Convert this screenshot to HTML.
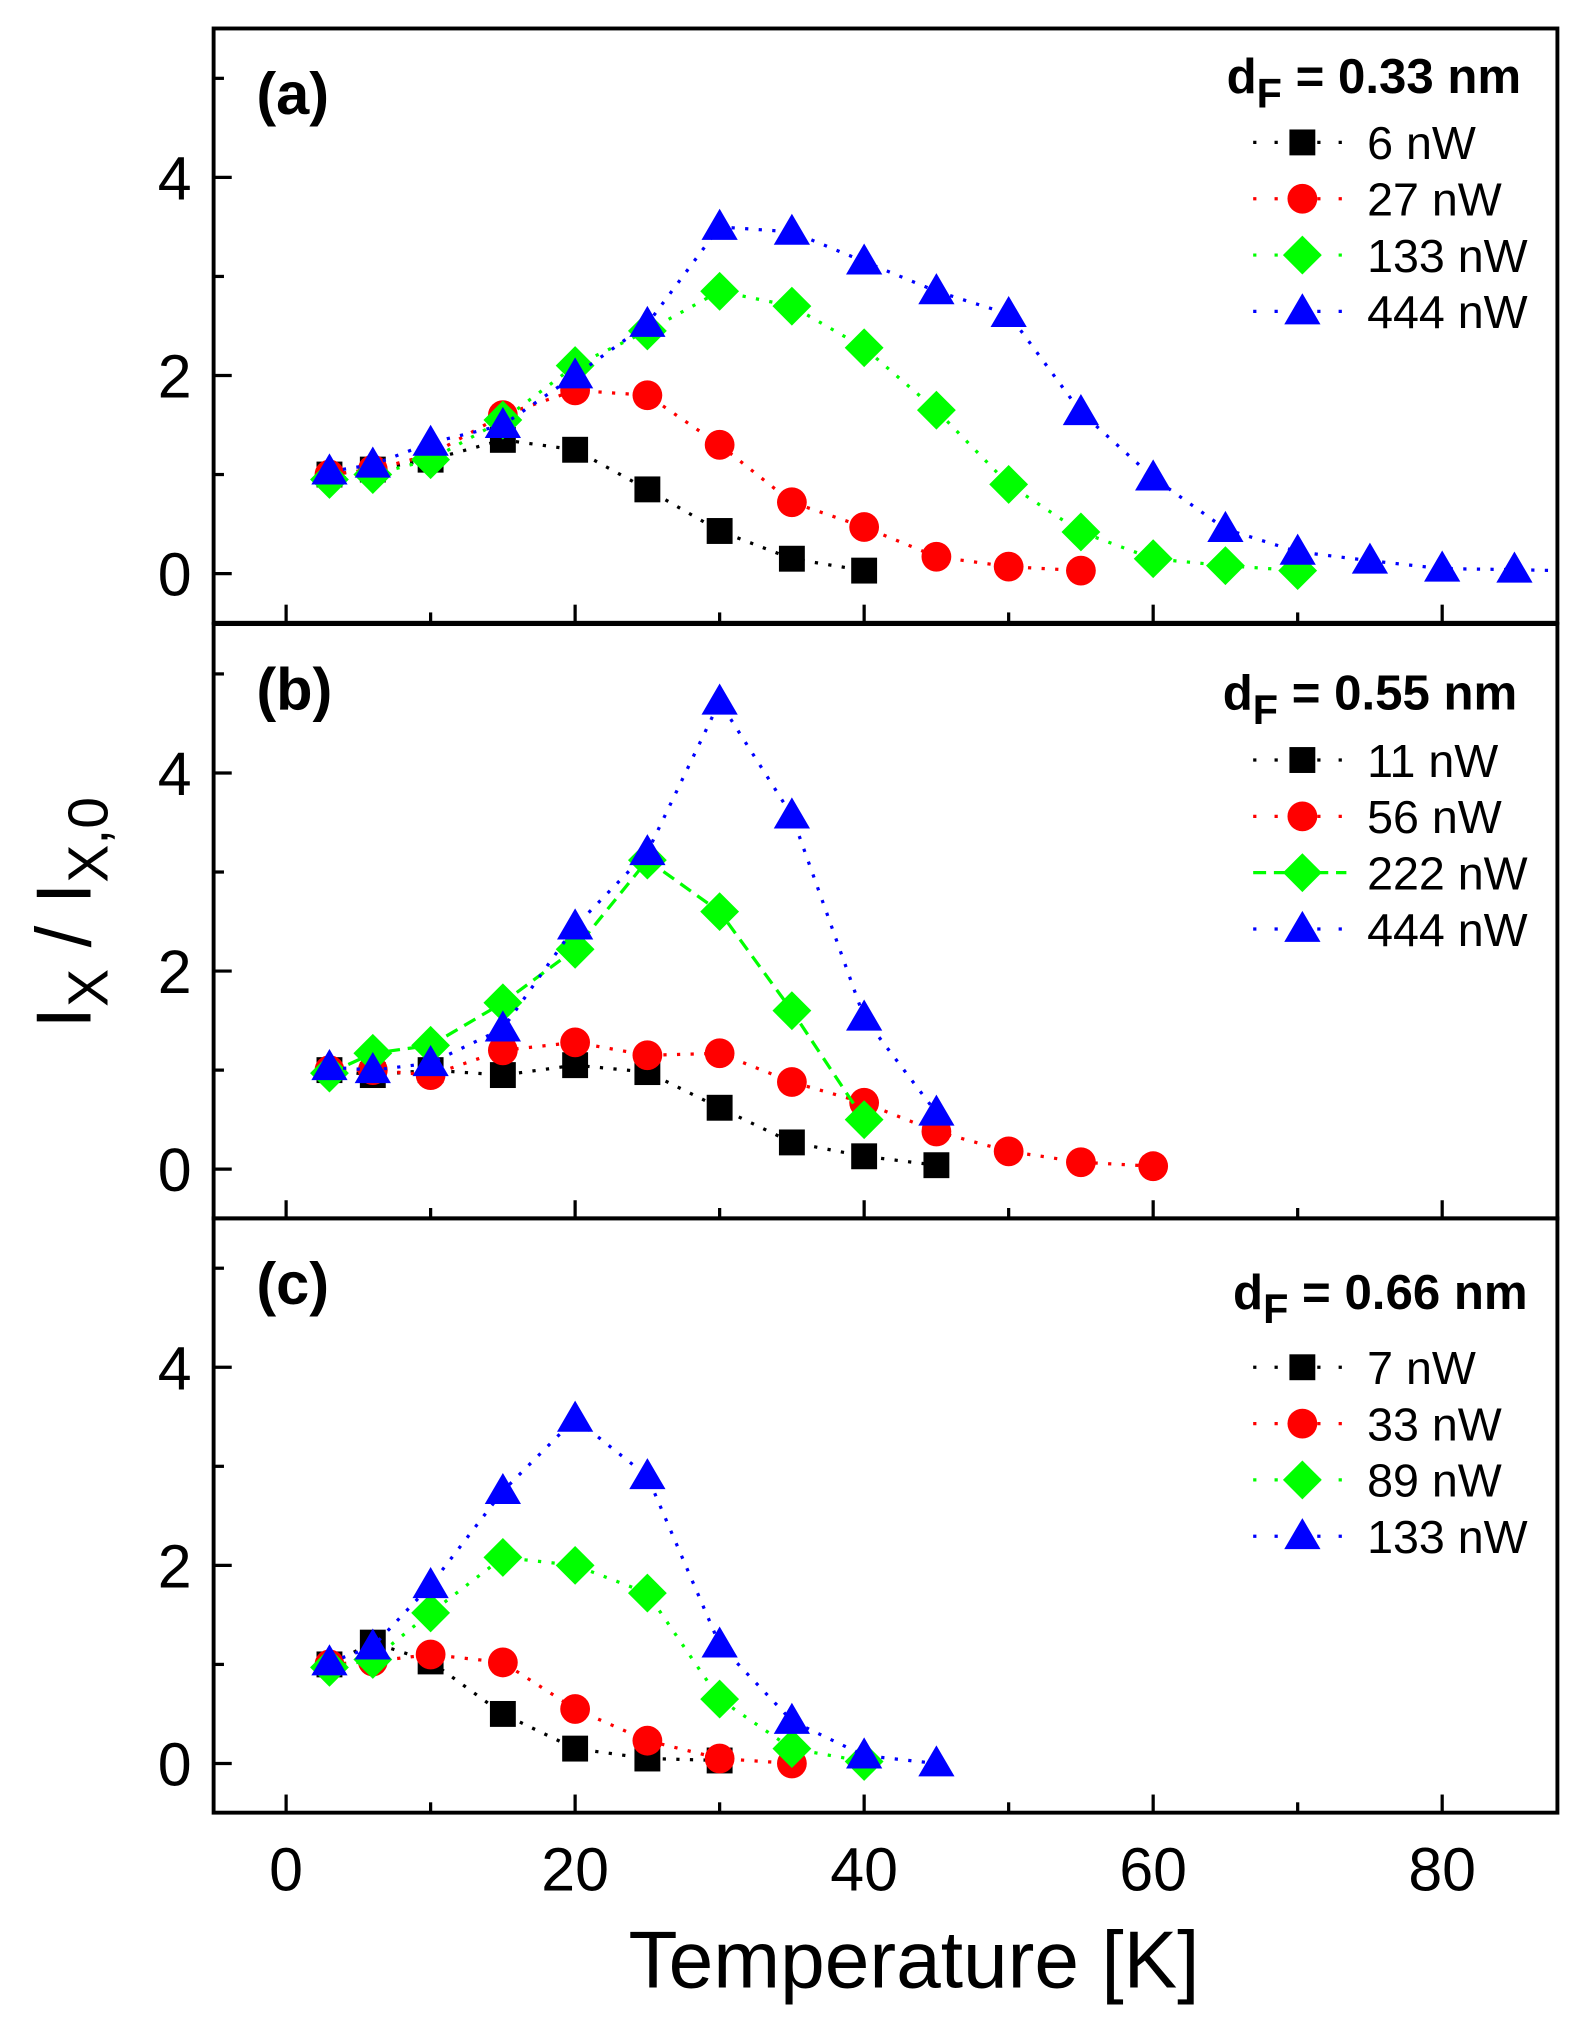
<!DOCTYPE html>
<html><head><meta charset="utf-8"><style>
html,body{margin:0;padding:0;background:#fff;}
svg{display:block;font-family:"Liberation Sans",Arial,sans-serif;}
</style></head><body>
<svg id="chart" width="1582" height="2025" viewBox="0 0 1222 1564" preserveAspectRatio="none" xmlns="http://www.w3.org/2000/svg">
<rect width="1222" height="1564" fill="#fff"/>
<g id="g"></g>
</svg>
<script>
const T_a1=[3,6,10,15,20,25,30,35,40];
const V_a1=[1.0,1.05,1.15,1.35,1.25,0.85,0.43,0.15,0.03];
const T_a2=[3,6,10,15,20,25,30,35,40,45,50,55];
const V_a2=[1.0,1.05,1.2,1.6,1.85,1.8,1.3,0.72,0.47,0.17,0.07,0.03];
const T_a3=[3,6,10,15,20,25,30,35,40,45,50,55,60,65,70];
const V_a3=[0.95,1.0,1.15,1.55,2.1,2.45,2.85,2.7,2.28,1.65,0.9,0.42,0.15,0.08,0.03];
const T_a4=[3,6,10,15,20,25,30,35,40,45,50,55,60,65,70,75,80,85,88];
const V_a4=[1.03,1.1,1.32,1.5,2.0,2.52,3.5,3.45,3.15,2.85,2.62,1.63,0.97,0.45,0.22,0.13,0.05,0.04,0.03];
const T_b1=[3,6,10,15,20,25,30,35,40,45];
const V_b1=[1.0,0.95,1.0,0.95,1.05,0.98,0.62,0.27,0.13,0.04];
const T_b2=[3,6,10,15,20,25,30,35,40,45,50,55,60];
const V_b2=[1.0,1.0,0.95,1.2,1.28,1.15,1.17,0.88,0.67,0.38,0.18,0.07,0.03];
const T_b3=[3,6,10,15,20,25,30,35,40];
const V_b3=[0.97,1.17,1.25,1.68,2.22,3.12,2.6,1.6,0.5];
const T_b4=[3,6,10,15,20,25,30,35,40,45];
const V_b4=[1.03,1.0,1.07,1.42,2.45,3.2,4.72,3.57,1.53,0.57];
const T_c1=[3,6,10,15,20,25,30];
const V_c1=[1.0,1.22,1.03,0.5,0.15,0.05,0.03];
const T_c2=[3,6,10,15,20,25,30,35];
const V_c2=[1.0,1.03,1.1,1.02,0.55,0.23,0.05,0.0];
const T_c3=[3,6,10,15,20,25,30,35,40];
const V_c3=[0.97,1.05,1.52,2.08,2.0,1.72,0.65,0.15,0.02];
const T_c4=[3,6,10,15,20,25,30,35,40,45];
const V_c4=[1.02,1.18,1.8,2.75,3.48,2.9,1.2,0.43,0.08,0.0];
const xTicks=[0,20,40,60,80];
const yTicks=[0,2,4];
const labels_a=["6 nW","27 nW","133 nW","444 nW"];
const labels_b=["11 nW","56 nW","222 nW","444 nW"];
const labels_c=["7 nW","33 nW","89 nW","133 nW"];

const NS="http://www.w3.org/2000/svg";
const G=document.getElementById('g');
function el(t,a,p){const e=document.createElementNS(NS,t);for(const k in a)e.setAttribute(k,a[k]);(p||G).appendChild(e);return e;}
const L=165,R=1203;
const xS=v=>221+(v)*11.1625;
const panels=[
 {top:22,zero:443,tag:"(a)",df:"0.33",lx:1175,hy:50,ly0:88,labels:labels_a,series:[[T_a1,V_a1],[T_a2,V_a2],[T_a3,V_a3],[T_a4,V_a4]],dash:[0,0,0,0],name:"a"},
 {top:482,zero:903,tag:"(b)",df:"0.55",lx:1172,hy:66,ly0:105,labels:labels_b,series:[[T_b1,V_b1],[T_b2,V_b2],[T_b3,V_b3],[T_b4,V_b4]],dash:[0,0,1,0],name:"b"},
 {top:941,zero:1362,tag:"(c)",df:"0.66",lx:1180,hy:70,ly0:115,labels:labels_c,series:[[T_c1,V_c1],[T_c2,V_c2],[T_c3,V_c3],[T_c4,V_c4]],dash:[0,0,0,0],name:"c"}
];
const colors=["#000","#ff0000","#00ff00","#0000ff"];
const shapes=["square","circle","diamond","triangle"];
function marker(s,x,y,c,parent){
 let e;
 if(s==="square")e=el('rect',{x:x-10,y:y-10,width:20,height:20,fill:c},parent);
 else if(s==="circle")e=el('circle',{cx:x,cy:y,r:11.5,fill:c},parent);
 else if(s==="diamond")e=el('polygon',{points:`${x},${y-15} ${x+15},${y} ${x},${y+15} ${x-15},${y}`,fill:c},parent);
 else e=el('polygon',{points:`${x},${y-14} ${x+14},${y+10} ${x-14},${y+10}`,fill:c},parent);
 return e;
}
panels.forEach(p=>{
 const yS=v=>p.zero-v*76.5;
 const bot=p.top+459;
 const pg=el('g',{});
 
 
 for(let v=0;v<=80;v+=10){
  const t=el('line',{x1:xS(v),x2:xS(v),y1:bot,y2:bot-(v%20===0?14:8),stroke:'#000','stroke-width':2.5},pg);
  
  
 }
 for(let v=0;v<=5;v++){
  const t=el('line',{x1:L,x2:L+(v%2===0?14:8),y1:yS(v),y2:yS(v),stroke:'#000','stroke-width':2.5},pg);
  
  
 }
 yTicks.forEach(v=>{
  const t=el('text',{x:148,y:yS(v)+17,'font-size':47,'text-anchor':'end'},pg);
  t.textContent=v;
  
  
 });
 p.series.forEach((s,i)=>{
  const [T,V]=s;
  const pts=T.map((t,j)=>xS(t)+','+yS(V[j])).join(' ');
  const pl=el('polyline',{points:pts,fill:'none',stroke:colors[i],'stroke-width':2.5,'stroke-dasharray':p.dash[i]?'10 6':'2.5 8'},pg);
  
  
  T.forEach((t,j)=>{
   if(t>86)return;
   const m=marker(shapes[i],xS(t),yS(V[j]),colors[i],pg);
   
   
  });
 });
 const tg=el('text',{x:198,y:p.top+66,'font-size':46,'font-weight':'bold'},pg);
 tg.textContent=p.tag;
 
 
 const hd=el('text',{x:p.lx,y:p.top+p.hy,'font-size':38,'font-weight':'bold','text-anchor':'end'},pg);
 hd.innerHTML=`d<tspan dy="11" font-size="32">F</tspan><tspan dy="-11"> = ${p.df} nm</tspan>`;
 
 
 p.labels.forEach((lb,i)=>{
  const ly=p.top+p.ly0+i*43.5;
  const lg=el('g',{},pg);
  
  
  el('line',{x1:968,x2:1040,y1:ly,y2:ly,stroke:colors[i],'stroke-width':2.5,'stroke-dasharray':p.dash[i]?'10 6':'2.5 14'},lg);
  marker(shapes[i],1006,ly,colors[i],lg);
  const tx=el('text',{x:1056,y:ly+13,'font-size':36},lg);
  tx.textContent=lb;
 });
 const fr=el('rect',{x:L,y:p.top,width:R-L,height:459,fill:'none',stroke:'#000','stroke-width':3},pg);
 
 
});
xTicks.forEach(v=>{
 const t=el('text',{x:xS(v),y:1460,'font-size':47,'text-anchor':'middle'});
 t.textContent=v;
 
 
});
const xt=el('text',{x:706,y:1535,'font-size':62,'text-anchor':'middle'});
xt.textContent='Temperature [K]';


const yt=el('text',{x:0,y:0,'font-size':60,'text-anchor':'middle',transform:'translate(70,705) rotate(-90)'});
yt.innerHTML='I<tspan dy="13" font-size="44">X</tspan><tspan dy="-13"> / I</tspan><tspan dy="13" font-size="44">X,0</tspan>';


</script>
</body></html>
